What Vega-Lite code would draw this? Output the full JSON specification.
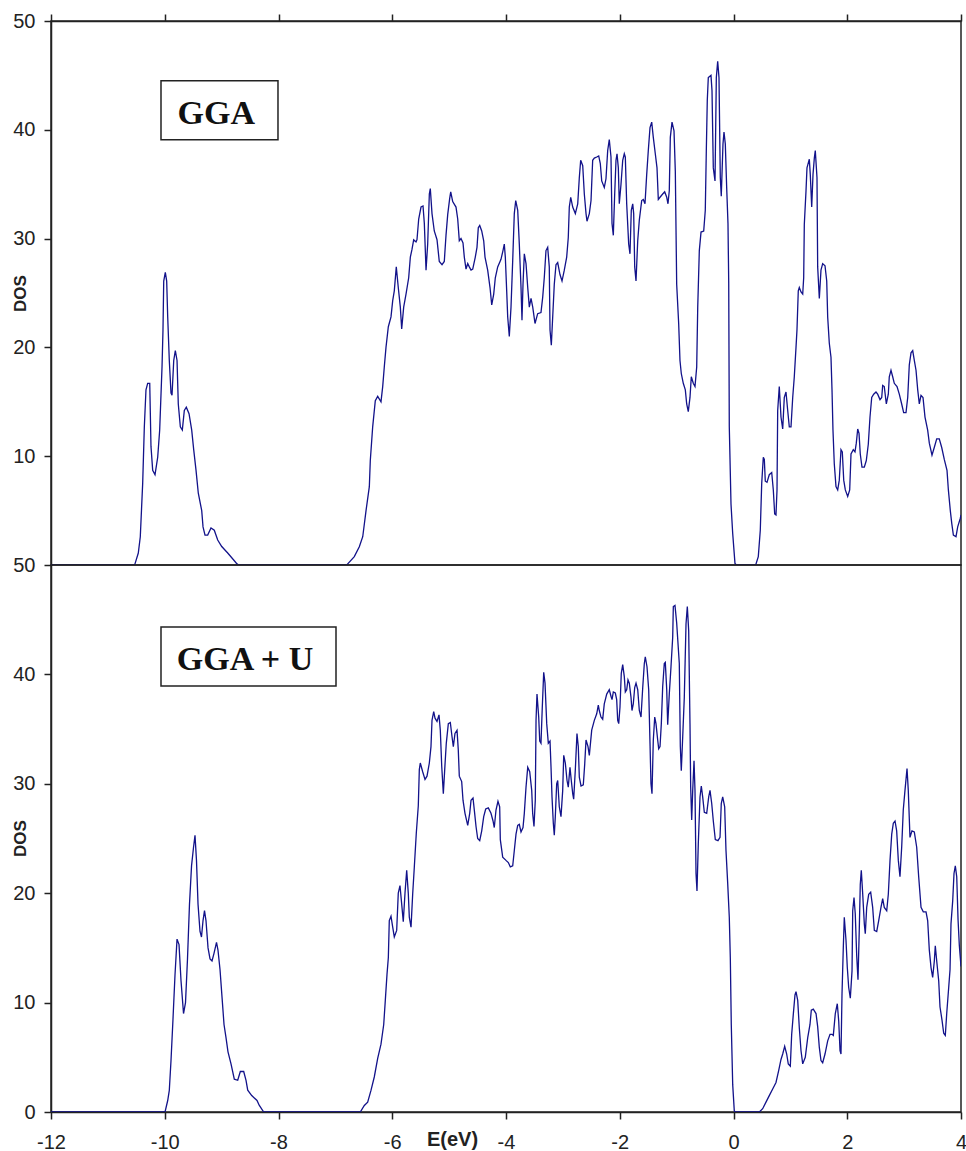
{
"$schema": "https://vega.github.io/schema/vega-lite/v6.json",
"background": "white",
"padding": {"left": 10, "top": 10, "right": 0, "bottom": 0},
"spacing": 0,
"bounds": "flush",
"config": {
 "view": {"stroke": "#222", "strokeWidth": 1.5},
 "axis": {"labelFont": "Liberation Sans", "labelFontSize": 20, "labelColor": "#222", "domainColor": "#222", "domainWidth": 1.5, "tickColor": "#222", "tickWidth": 1.5, "tickSize": 7, "grid": false, "titleFont": "Liberation Sans", "titleFontWeight": "bold", "titleColor": "#222", "labelFlush": false, "labelExpr": "datum.value + ''"}
},
"datasets": {
"gga": [
{"E":-12,"DOS":0},{"E":-10.53,"DOS":0},{"E":-10.518,"DOS":0.2},{"E":-10.465,"DOS":1.1},{"E":-10.43,"DOS":2.6},{"E":-10.388,"DOS":7.5},{"E":-10.359,"DOS":12.7},{"E":-10.33,"DOS":16.1},{"E":-10.3,"DOS":16.7},{"E":-10.264,"DOS":16.7},{"E":-10.242,"DOS":10.9},{"E":-10.212,"DOS":8.7},{"E":-10.171,"DOS":8.3},{"E":-10.124,"DOS":9.9},{"E":-10.089,"DOS":12.4},{"E":-10.048,"DOS":18.2},{"E":-10.031,"DOS":21.6},{"E":-10.018,"DOS":26.1},{"E":-9.99,"DOS":26.9},{"E":-9.966,"DOS":26.1},{"E":-9.948,"DOS":22.8},{"E":-9.92,"DOS":18.8},{"E":-9.89,"DOS":15.8},{"E":-9.872,"DOS":15.6},{"E":-9.842,"DOS":18.8},{"E":-9.814,"DOS":19.7},{"E":-9.784,"DOS":18.8},{"E":-9.762,"DOS":14.8},{"E":-9.726,"DOS":12.7},{"E":-9.691,"DOS":12.4},{"E":-9.656,"DOS":14.2},{"E":-9.621,"DOS":14.5},{"E":-9.573,"DOS":13.9},{"E":-9.526,"DOS":12.4},{"E":-9.491,"DOS":10.6},{"E":-9.45,"DOS":8.7},{"E":-9.41,"DOS":6.6},{"E":-9.35,"DOS":5},{"E":-9.327,"DOS":3.5},{"E":-9.292,"DOS":2.75},{"E":-9.245,"DOS":2.75},{"E":-9.187,"DOS":3.4},{"E":-9.129,"DOS":3.2},{"E":-9.069,"DOS":2.3},{"E":-8.998,"DOS":1.7},{"E":-8.893,"DOS":1.1},{"E":-8.788,"DOS":0.46},{"E":-8.73,"DOS":0.1},{"E":-8.7,"DOS":0},{"E":-6.8,"DOS":0},
{"E":-6.783,"DOS":0.1},{"E":-6.667,"DOS":0.77},{"E":-6.579,"DOS":1.68},{"E":-6.519,"DOS":2.6},{"E":-6.461,"DOS":5},{"E":-6.403,"DOS":7.2},{"E":-6.386,"DOS":9.6},{"E":-6.344,"DOS":12.7},{"E":-6.298,"DOS":15.1},{"E":-6.256,"DOS":15.5},{"E":-6.198,"DOS":15},{"E":-6.168,"DOS":16.4},{"E":-6.14,"DOS":18.2},{"E":-6.11,"DOS":20},{"E":-6.069,"DOS":21.9},{"E":-6.022,"DOS":22.8},{"E":-5.992,"DOS":24.3},{"E":-5.964,"DOS":25.2},{"E":-5.929,"DOS":27.4},{"E":-5.894,"DOS":25.5},{"E":-5.858,"DOS":23.7},{"E":-5.834,"DOS":21.7},{"E":-5.799,"DOS":23.7},{"E":-5.758,"DOS":24.9},{"E":-5.711,"DOS":26.4},{"E":-5.682,"DOS":28.3},{"E":-5.653,"DOS":29},{"E":-5.623,"DOS":29.9},{"E":-5.582,"DOS":29.7},{"E":-5.565,"DOS":29.9},{"E":-5.535,"DOS":31.8},{"E":-5.494,"DOS":32.9},{"E":-5.459,"DOS":33},{"E":-5.436,"DOS":31.4},{"E":-5.406,"DOS":27.1},{"E":-5.377,"DOS":29.5},{"E":-5.348,"DOS":34.1},{"E":-5.331,"DOS":34.6},{"E":-5.301,"DOS":32.3},{"E":-5.261,"DOS":30.7},{"E":-5.213,"DOS":29.9},{"E":-5.173,"DOS":27.9},{"E":-5.125,"DOS":27.6},{"E":-5.085,"DOS":27.9},{"E":-5.055,"DOS":30.3},{"E":-5.025,"DOS":32.2},{"E":-4.99,"DOS":33.7},{"E":-4.972,"DOS":34.3},{"E":-4.937,"DOS":33.4},{"E":-4.879,"DOS":32.9},{"E":-4.849,"DOS":31.8},{"E":-4.821,"DOS":29.8},{"E":-4.791,"DOS":30},{"E":-4.756,"DOS":29.6},{"E":-4.733,"DOS":28.3},{"E":-4.703,"DOS":27.2},{"E":-4.673,"DOS":27.7},{"E":-4.645,"DOS":27.4},{"E":-4.615,"DOS":27.1},{"E":-4.585,"DOS":27.2},{"E":-4.54,"DOS":28.3},{"E":-4.51,"DOS":29.2},{"E":-4.487,"DOS":31},{"E":-4.462,"DOS":31.2},{"E":-4.427,"DOS":30.7},{"E":-4.392,"DOS":29.8},{"E":-4.369,"DOS":28.3},{"E":-4.322,"DOS":27.1},{"E":-4.281,"DOS":25.5},{"E":-4.251,"DOS":23.9},{"E":-4.216,"DOS":24.9},{"E":-4.188,"DOS":26.4},{"E":-4.146,"DOS":27.4},{"E":-4.088,"DOS":28.1},{"E":-4.053,"DOS":28.9},{"E":-4.03,"DOS":29.5},{"E":-4.012,"DOS":28.3},{"E":-3.988,"DOS":25.2},{"E":-3.97,"DOS":22.8},{"E":-3.942,"DOS":21},{"E":-3.912,"DOS":23.7},{"E":-3.882,"DOS":28},{"E":-3.854,"DOS":32.3},{"E":-3.829,"DOS":33.5},{"E":-3.794,"DOS":32.6},{"E":-3.766,"DOS":29.5},{"E":-3.736,"DOS":25.5},{"E":-3.719,"DOS":22.5},{"E":-3.701,"DOS":25.8},{"E":-3.678,"DOS":28.6},{"E":-3.648,"DOS":27.7},{"E":-3.618,"DOS":25.5},{"E":-3.59,"DOS":23.7},{"E":-3.56,"DOS":24.5},{"E":-3.53,"DOS":23.7},{"E":-3.49,"DOS":22.2},{"E":-3.443,"DOS":23.1},{"E":-3.385,"DOS":23.2},{"E":-3.355,"DOS":24.6},{"E":-3.327,"DOS":26.4},{"E":-3.297,"DOS":28.9},{"E":-3.267,"DOS":29.2},{"E":-3.239,"DOS":27.4},{"E":-3.226,"DOS":21.6},{"E":-3.203,"DOS":20.2},{"E":-3.179,"DOS":22.8},{"E":-3.151,"DOS":25.8},{"E":-3.121,"DOS":27.6},{"E":-3.091,"DOS":27.8},{"E":-3.051,"DOS":26.7},{"E":-3.015,"DOS":26.1},{"E":-2.975,"DOS":27.1},{"E":-2.933,"DOS":28.3},{"E":-2.905,"DOS":30.1},{"E":-2.887,"DOS":32.9},{"E":-2.862,"DOS":33.8},{"E":-2.827,"DOS":32.9},{"E":-2.781,"DOS":32.3},{"E":-2.739,"DOS":33.2},{"E":-2.711,"DOS":35.6},{"E":-2.687,"DOS":37.2},{"E":-2.651,"DOS":36.7},{"E":-2.623,"DOS":34.1},{"E":-2.593,"DOS":32.3},{"E":-2.576,"DOS":31.6},{"E":-2.535,"DOS":32.3},{"E":-2.505,"DOS":33.5},{"E":-2.476,"DOS":37.2},{"E":-2.447,"DOS":37.4},{"E":-2.405,"DOS":37.5},{"E":-2.37,"DOS":37.6},{"E":-2.342,"DOS":36.9},{"E":-2.317,"DOS":35.3},{"E":-2.272,"DOS":34.7},{"E":-2.242,"DOS":35.5},{"E":-2.212,"DOS":38.1},{"E":-2.184,"DOS":39.1},{"E":-2.154,"DOS":37.5},{"E":-2.136,"DOS":31.4},{"E":-2.113,"DOS":30.3},{"E":-2.089,"DOS":34.1},{"E":-2.066,"DOS":37.2},{"E":-2.048,"DOS":37.8},{"E":-2.025,"DOS":36.5},{"E":-2.008,"DOS":33.2},{"E":-1.978,"DOS":35},{"E":-1.948,"DOS":37.2},{"E":-1.92,"DOS":37.8},{"E":-1.902,"DOS":37.5},{"E":-1.878,"DOS":33.2},{"E":-1.843,"DOS":29.5},{"E":-1.82,"DOS":28.6},{"E":-1.797,"DOS":32.6},{"E":-1.772,"DOS":33.2},{"E":-1.755,"DOS":32.3},{"E":-1.737,"DOS":27.4},{"E":-1.714,"DOS":26.1},{"E":-1.684,"DOS":29.8},{"E":-1.656,"DOS":31.7},{"E":-1.614,"DOS":33.5},{"E":-1.586,"DOS":33.6},{"E":-1.556,"DOS":33.2},{"E":-1.526,"DOS":35.9},{"E":-1.498,"DOS":38.1},{"E":-1.468,"DOS":40.2},{"E":-1.438,"DOS":40.7},{"E":-1.41,"DOS":39.3},{"E":-1.375,"DOS":37.8},{"E":-1.345,"DOS":36.5},{"E":-1.322,"DOS":33.6},{"E":-1.292,"DOS":33.8},{"E":-1.245,"DOS":34.1},{"E":-1.21,"DOS":34.3},{"E":-1.174,"DOS":33.8},{"E":-1.152,"DOS":33.2},{"E":-1.129,"DOS":34.4},{"E":-1.111,"DOS":39.3},{"E":-1.081,"DOS":40.7},{"E":-1.046,"DOS":39.9},{"E":-1.023,"DOS":36.2},{"E":-0.999,"DOS":25.8},{"E":-0.964,"DOS":22.2},{"E":-0.941,"DOS":18.8},{"E":-0.918,"DOS":17.6},{"E":-0.883,"DOS":16.7},{"E":-0.847,"DOS":16.1},{"E":-0.823,"DOS":14.8},{"E":-0.795,"DOS":14.1},{"E":-0.765,"DOS":15.4},{"E":-0.742,"DOS":17.3},{"E":-0.707,"DOS":16.7},{"E":-0.677,"DOS":16.4},{"E":-0.647,"DOS":18.2},{"E":-0.629,"DOS":23.7},{"E":-0.601,"DOS":28.9},{"E":-0.571,"DOS":30.6},{"E":-0.524,"DOS":30.7},{"E":-0.496,"DOS":32.6},{"E":-0.478,"DOS":38.1},{"E":-0.461,"DOS":42.7},{"E":-0.443,"DOS":44.8},{"E":-0.396,"DOS":45},{"E":-0.378,"DOS":43.6},{"E":-0.355,"DOS":36.5},{"E":-0.325,"DOS":35.3},{"E":-0.302,"DOS":44.8},{"E":-0.278,"DOS":46.3},{"E":-0.255,"DOS":44.8},{"E":-0.232,"DOS":35.6},{"E":-0.215,"DOS":33.9},{"E":-0.185,"DOS":38.7},{"E":-0.167,"DOS":39.8},{"E":-0.144,"DOS":38.7},{"E":-0.12,"DOS":34.7},{"E":-0.097,"DOS":31.4},{"E":-0.084,"DOS":25.9},{"E":-0.074,"DOS":12.7},{"E":-0.044,"DOS":5.6},{"E":-0.014,"DOS":2.9},{"E":0.026,"DOS":0.15},{"E":0.05,"DOS":0},{"E":0.39,"DOS":0},
{"E":0.436,"DOS":0.77},{"E":0.471,"DOS":3.2},{"E":0.496,"DOS":7.5},{"E":0.524,"DOS":9.9},{"E":0.542,"DOS":9.7},{"E":0.559,"DOS":7.7},{"E":0.589,"DOS":7.6},{"E":0.629,"DOS":8.3},{"E":0.672,"DOS":8.5},{"E":0.7,"DOS":6.9},{"E":0.724,"DOS":4.7},{"E":0.747,"DOS":4.6},{"E":0.765,"DOS":6.9},{"E":0.777,"DOS":14.2},{"E":0.805,"DOS":16.4},{"E":0.835,"DOS":13.6},{"E":0.865,"DOS":12.5},{"E":0.893,"DOS":15.4},{"E":0.923,"DOS":15.9},{"E":0.953,"DOS":14.2},{"E":0.981,"DOS":12.7},{"E":1.011,"DOS":12.7},{"E":1.041,"DOS":15.4},{"E":1.069,"DOS":17.3},{"E":1.099,"DOS":20},{"E":1.116,"DOS":21.6},{"E":1.139,"DOS":25.2},{"E":1.157,"DOS":25.5},{"E":1.187,"DOS":25.1},{"E":1.217,"DOS":24.9},{"E":1.234,"DOS":26.4},{"E":1.245,"DOS":31.3},{"E":1.275,"DOS":34.4},{"E":1.292,"DOS":36.5},{"E":1.333,"DOS":37.3},{"E":1.35,"DOS":35.9},{"E":1.375,"DOS":32.9},{"E":1.398,"DOS":35.9},{"E":1.421,"DOS":37.4},{"E":1.438,"DOS":38.1},{"E":1.468,"DOS":35.6},{"E":1.48,"DOS":27.4},{"E":1.509,"DOS":24.5},{"E":1.538,"DOS":27.1},{"E":1.568,"DOS":27.7},{"E":1.609,"DOS":27.5},{"E":1.639,"DOS":26.1},{"E":1.656,"DOS":22.8},{"E":1.684,"DOS":20.4},{"E":1.714,"DOS":19.1},{"E":1.732,"DOS":16.1},{"E":1.749,"DOS":12.4},{"E":1.772,"DOS":9.3},{"E":1.802,"DOS":7.2},{"E":1.832,"DOS":6.9},{"E":1.86,"DOS":7.8},{"E":1.89,"DOS":10.6},{"E":1.913,"DOS":10.4},{"E":1.938,"DOS":7.8},{"E":1.966,"DOS":6.9},{"E":2.008,"DOS":6.3},{"E":2.043,"DOS":6.9},{"E":2.066,"DOS":10.2},{"E":2.106,"DOS":10.6},{"E":2.136,"DOS":10.4},{"E":2.159,"DOS":11.2},{"E":2.184,"DOS":12.5},{"E":2.207,"DOS":12.1},{"E":2.229,"DOS":10.2},{"E":2.259,"DOS":9},{"E":2.3,"DOS":9},{"E":2.335,"DOS":9.6},{"E":2.37,"DOS":11.1},{"E":2.4,"DOS":13.6},{"E":2.43,"DOS":15.4},{"E":2.465,"DOS":15.7},{"E":2.505,"DOS":15.9},{"E":2.535,"DOS":15.7},{"E":2.576,"DOS":15.2},{"E":2.606,"DOS":15.4},{"E":2.623,"DOS":16.5},{"E":2.651,"DOS":16.4},{"E":2.687,"DOS":14.8},{"E":2.722,"DOS":15.7},{"E":2.739,"DOS":17.3},{"E":2.769,"DOS":17.9},{"E":2.799,"DOS":17.3},{"E":2.827,"DOS":16.7},{"E":2.875,"DOS":16.4},{"E":2.915,"DOS":15.7},{"E":2.957,"DOS":14.8},{"E":2.992,"DOS":14},{"E":3.033,"DOS":14},{"E":3.063,"DOS":15.4},{"E":3.091,"DOS":18.4},{"E":3.121,"DOS":19.5},{"E":3.151,"DOS":19.7},{"E":3.179,"DOS":18.8},{"E":3.209,"DOS":17.9},{"E":3.239,"DOS":16.1},{"E":3.267,"DOS":14.8},{"E":3.297,"DOS":15.6},{"E":3.332,"DOS":15.4},{"E":3.367,"DOS":13.6},{"E":3.414,"DOS":12.4},{"E":3.443,"DOS":11.2},{"E":3.49,"DOS":10.1},{"E":3.53,"DOS":10.8},{"E":3.573,"DOS":11.6},{"E":3.618,"DOS":11.6},{"E":3.661,"DOS":10.8},{"E":3.706,"DOS":9.7},{"E":3.754,"DOS":8.7},{"E":3.778,"DOS":6.9},{"E":3.812,"DOS":5},{"E":3.838,"DOS":3.8},{"E":3.866,"DOS":2.75},{"E":3.912,"DOS":2.6},{"E":3.942,"DOS":3.5},{"E":3.988,"DOS":4.3},{"E":4,"DOS":4.6}
],
"ggau": [
{"E":-12,"DOS":0},{"E":-9.995,"DOS":0},{"E":-9.948,"DOS":1.05},{"E":-9.92,"DOS":1.97},{"E":-9.89,"DOS":4.7},{"E":-9.855,"DOS":8.5},{"E":-9.82,"DOS":12.5},{"E":-9.784,"DOS":15.8},{"E":-9.749,"DOS":15.3},{"E":-9.714,"DOS":12},{"E":-9.67,"DOS":9},{"E":-9.635,"DOS":10},{"E":-9.6,"DOS":14},{"E":-9.565,"DOS":19},{"E":-9.529,"DOS":22.5},{"E":-9.494,"DOS":24.2},{"E":-9.468,"DOS":25.3},{"E":-9.442,"DOS":23},{"E":-9.415,"DOS":19},{"E":-9.38,"DOS":16.5},{"E":-9.354,"DOS":16},{"E":-9.327,"DOS":17.5},{"E":-9.301,"DOS":18.4},{"E":-9.275,"DOS":17.5},{"E":-9.239,"DOS":15},{"E":-9.204,"DOS":14},{"E":-9.169,"DOS":13.8},{"E":-9.134,"DOS":14.5},{"E":-9.09,"DOS":15.5},{"E":-9.064,"DOS":14.8},{"E":-9.028,"DOS":13},{"E":-8.993,"DOS":10.5},{"E":-8.958,"DOS":8},{"E":-8.923,"DOS":6.8},{"E":-8.888,"DOS":5.5},{"E":-8.835,"DOS":4.4},{"E":-8.777,"DOS":3},{"E":-8.717,"DOS":2.9},{"E":-8.671,"DOS":3.7},{"E":-8.612,"DOS":3.7},{"E":-8.571,"DOS":2.9},{"E":-8.541,"DOS":2},{"E":-8.471,"DOS":1.5},{"E":-8.378,"DOS":1.05},{"E":-8.337,"DOS":0.6},{"E":-8.26,"DOS":0},{"E":-6.562,"DOS":0},
{"E":-6.491,"DOS":0.6},{"E":-6.432,"DOS":0.9},{"E":-6.374,"DOS":1.97},{"E":-6.316,"DOS":3.2},{"E":-6.256,"DOS":4.9},{"E":-6.198,"DOS":6.2},{"E":-6.15,"DOS":8},{"E":-6.122,"DOS":10.2},{"E":-6.092,"DOS":12.6},{"E":-6.069,"DOS":14.1},{"E":-6.052,"DOS":17.5},{"E":-6.022,"DOS":17.9},{"E":-5.992,"DOS":16.9},{"E":-5.964,"DOS":16},{"E":-5.922,"DOS":16.6},{"E":-5.894,"DOS":20},{"E":-5.864,"DOS":20.7},{"E":-5.834,"DOS":19},{"E":-5.806,"DOS":17.4},{"E":-5.776,"DOS":20},{"E":-5.746,"DOS":22.1},{"E":-5.718,"DOS":20},{"E":-5.7,"DOS":17.8},{"E":-5.67,"DOS":16.9},{"E":-5.64,"DOS":20},{"E":-5.612,"DOS":22.4},{"E":-5.577,"DOS":25.5},{"E":-5.542,"DOS":28},{"E":-5.524,"DOS":31.3},{"E":-5.507,"DOS":31.9},{"E":-5.465,"DOS":31.1},{"E":-5.424,"DOS":30.4},{"E":-5.389,"DOS":30.7},{"E":-5.348,"DOS":31.9},{"E":-5.319,"DOS":33.4},{"E":-5.301,"DOS":35.8},{"E":-5.271,"DOS":36.6},{"E":-5.248,"DOS":36},{"E":-5.213,"DOS":35.7},{"E":-5.178,"DOS":36.3},{"E":-5.155,"DOS":34.9},{"E":-5.13,"DOS":31.6},{"E":-5.102,"DOS":29.1},{"E":-5.072,"DOS":31.8},{"E":-5.05,"DOS":33.7},{"E":-5.014,"DOS":35.5},{"E":-4.979,"DOS":35.6},{"E":-4.949,"DOS":34.3},{"E":-4.926,"DOS":33.4},{"E":-4.897,"DOS":34.6},{"E":-4.861,"DOS":34.9},{"E":-4.839,"DOS":33.1},{"E":-4.821,"DOS":30.7},{"E":-4.779,"DOS":30.2},{"E":-4.756,"DOS":28.5},{"E":-4.721,"DOS":27.3},{"E":-4.673,"DOS":26.2},{"E":-4.638,"DOS":27.3},{"E":-4.615,"DOS":28.5},{"E":-4.58,"DOS":28.7},{"E":-4.557,"DOS":27.6},{"E":-4.527,"DOS":26.1},{"E":-4.498,"DOS":25},{"E":-4.462,"DOS":24.8},{"E":-4.427,"DOS":25.7},{"E":-4.392,"DOS":27},{"E":-4.357,"DOS":27.7},{"E":-4.311,"DOS":27.8},{"E":-4.264,"DOS":27.3},{"E":-4.228,"DOS":26.6},{"E":-4.206,"DOS":26},{"E":-4.176,"DOS":27.6},{"E":-4.141,"DOS":28.4},{"E":-4.111,"DOS":27.9},{"E":-4.1,"DOS":24.9},{"E":-4.058,"DOS":23.3},{"E":-4,"DOS":23},{"E":-3.959,"DOS":22.8},{"E":-3.924,"DOS":22.4},{"E":-3.882,"DOS":22.5},{"E":-3.854,"DOS":23.9},{"E":-3.824,"DOS":25.4},{"E":-3.794,"DOS":26.2},{"E":-3.766,"DOS":26.3},{"E":-3.736,"DOS":25.6},{"E":-3.701,"DOS":26},{"E":-3.678,"DOS":27.3},{"E":-3.648,"DOS":29.7},{"E":-3.618,"DOS":31.5},{"E":-3.583,"DOS":31.1},{"E":-3.548,"DOS":29.4},{"E":-3.531,"DOS":27.3},{"E":-3.508,"DOS":26.1},{"E":-3.485,"DOS":28.5},{"E":-3.472,"DOS":35.8},{"E":-3.455,"DOS":38.2},{"E":-3.425,"DOS":36.1},{"E":-3.407,"DOS":33.9},{"E":-3.385,"DOS":33.7},{"E":-3.362,"DOS":37},{"E":-3.337,"DOS":40.2},{"E":-3.314,"DOS":39.2},{"E":-3.284,"DOS":35.5},{"E":-3.256,"DOS":33.7},{"E":-3.226,"DOS":33.9},{"E":-3.209,"DOS":31.6},{"E":-3.191,"DOS":28.8},{"E":-3.168,"DOS":26.4},{"E":-3.151,"DOS":25.3},{"E":-3.133,"DOS":27},{"E":-3.109,"DOS":30},{"E":-3.091,"DOS":30.3},{"E":-3.063,"DOS":27.9},{"E":-3.033,"DOS":27},{"E":-3.003,"DOS":29.4},{"E":-2.985,"DOS":32.6},{"E":-2.957,"DOS":31.9},{"E":-2.927,"DOS":30.3},{"E":-2.905,"DOS":29.7},{"E":-2.875,"DOS":31.5},{"E":-2.852,"DOS":30.3},{"E":-2.827,"DOS":29.1},{"E":-2.81,"DOS":28.6},{"E":-2.781,"DOS":31.3},{"E":-2.752,"DOS":34.6},{"E":-2.729,"DOS":33.4},{"E":-2.711,"DOS":30.6},{"E":-2.681,"DOS":29.8},{"E":-2.641,"DOS":29.9},{"E":-2.616,"DOS":31.8},{"E":-2.593,"DOS":34},{"E":-2.558,"DOS":33.4},{"E":-2.535,"DOS":32.6},{"E":-2.493,"DOS":34.9},{"E":-2.447,"DOS":35.8},{"E":-2.405,"DOS":36.4},{"E":-2.377,"DOS":37.2},{"E":-2.36,"DOS":36.7},{"E":-2.33,"DOS":36.1},{"E":-2.3,"DOS":35.9},{"E":-2.272,"DOS":37.3},{"E":-2.229,"DOS":38.2},{"E":-2.184,"DOS":38.6},{"E":-2.154,"DOS":38},{"E":-2.136,"DOS":37.7},{"E":-2.113,"DOS":38.4},{"E":-2.078,"DOS":38.3},{"E":-2.054,"DOS":37.7},{"E":-2.036,"DOS":35.8},{"E":-2.018,"DOS":35.5},{"E":-1.996,"DOS":37},{"E":-1.973,"DOS":40.1},{"E":-1.948,"DOS":40.9},{"E":-1.92,"DOS":39.8},{"E":-1.902,"DOS":38.4},{"E":-1.878,"DOS":38.6},{"E":-1.855,"DOS":39.5},{"E":-1.832,"DOS":39.2},{"E":-1.802,"DOS":37.9},{"E":-1.785,"DOS":36.7},{"E":-1.762,"DOS":37.3},{"E":-1.737,"DOS":38.8},{"E":-1.714,"DOS":39.2},{"E":-1.684,"DOS":38.6},{"E":-1.656,"DOS":36.7},{"E":-1.626,"DOS":36.1},{"E":-1.596,"DOS":38.8},{"E":-1.568,"DOS":41},{"E":-1.551,"DOS":41.6},{"E":-1.521,"DOS":40.7},{"E":-1.491,"DOS":38.6},{"E":-1.468,"DOS":33.7},{"E":-1.451,"DOS":30},{"E":-1.433,"DOS":29.1},{"E":-1.41,"DOS":34},{"E":-1.385,"DOS":36.1},{"E":-1.363,"DOS":35.5},{"E":-1.333,"DOS":34},{"E":-1.315,"DOS":33.2},{"E":-1.292,"DOS":33.4},{"E":-1.269,"DOS":35.5},{"E":-1.245,"DOS":38.9},{"E":-1.217,"DOS":41},{"E":-1.199,"DOS":41.1},{"E":-1.174,"DOS":38.6},{"E":-1.157,"DOS":35.4},{"E":-1.129,"DOS":38.2},{"E":-1.099,"DOS":40.7},{"E":-1.069,"DOS":43.4},{"E":-1.058,"DOS":46.2},{"E":-1.029,"DOS":46.3},{"E":-0.999,"DOS":44.7},{"E":-0.953,"DOS":41},{"E":-0.935,"DOS":33.4},{"E":-0.918,"DOS":31.2},{"E":-0.893,"DOS":34.3},{"E":-0.865,"DOS":37.9},{"E":-0.835,"DOS":44.6},{"E":-0.812,"DOS":46.2},{"E":-0.788,"DOS":44},{"E":-0.765,"DOS":35.5},{"E":-0.753,"DOS":29.7},{"E":-0.735,"DOS":26.7},{"E":-0.717,"DOS":29.4},{"E":-0.694,"DOS":32.1},{"E":-0.677,"DOS":29.4},{"E":-0.659,"DOS":21.8},{"E":-0.642,"DOS":20.2},{"E":-0.619,"DOS":24.5},{"E":-0.589,"DOS":28.8},{"E":-0.566,"DOS":29.8},{"E":-0.542,"DOS":28.8},{"E":-0.513,"DOS":27.4},{"E":-0.471,"DOS":27.3},{"E":-0.436,"DOS":28.8},{"E":-0.413,"DOS":29.4},{"E":-0.383,"DOS":28.2},{"E":-0.355,"DOS":26.6},{"E":-0.32,"DOS":24.9},{"E":-0.273,"DOS":24.8},{"E":-0.237,"DOS":25.1},{"E":-0.215,"DOS":28.2},{"E":-0.19,"DOS":28.8},{"E":-0.155,"DOS":27.9},{"E":-0.132,"DOS":23.9},{"E":-0.102,"DOS":20.9},{"E":-0.074,"DOS":17.8},{"E":-0.056,"DOS":14.1},{"E":-0.039,"DOS":8},{"E":-0.014,"DOS":2.5},{"E":0.014,"DOS":0.1},{"E":0.03,"DOS":0},{"E":0.454,"DOS":0},
{"E":0.513,"DOS":0.3},{"E":0.571,"DOS":0.9},{"E":0.629,"DOS":1.5},{"E":0.689,"DOS":2.1},{"E":0.747,"DOS":2.7},{"E":0.795,"DOS":3.8},{"E":0.835,"DOS":4.8},{"E":0.865,"DOS":5.3},{"E":0.9,"DOS":6},{"E":0.935,"DOS":5.3},{"E":0.963,"DOS":4.4},{"E":0.999,"DOS":4.2},{"E":1.023,"DOS":7.1},{"E":1.051,"DOS":8.9},{"E":1.081,"DOS":10.7},{"E":1.099,"DOS":11},{"E":1.129,"DOS":10.2},{"E":1.157,"DOS":7.7},{"E":1.187,"DOS":5.6},{"E":1.217,"DOS":4.4},{"E":1.262,"DOS":5},{"E":1.305,"DOS":6.8},{"E":1.345,"DOS":8},{"E":1.368,"DOS":9.3},{"E":1.403,"DOS":9.4},{"E":1.451,"DOS":9},{"E":1.48,"DOS":7.8},{"E":1.509,"DOS":5.9},{"E":1.538,"DOS":4.7},{"E":1.568,"DOS":4.5},{"E":1.609,"DOS":5.3},{"E":1.656,"DOS":6.5},{"E":1.697,"DOS":7.1},{"E":1.732,"DOS":7.1},{"E":1.755,"DOS":7},{"E":1.79,"DOS":9},{"E":1.825,"DOS":9.9},{"E":1.85,"DOS":8.3},{"E":1.873,"DOS":5.6},{"E":1.89,"DOS":5.3},{"E":1.908,"DOS":10.8},{"E":1.931,"DOS":15.1},{"E":1.948,"DOS":17.8},{"E":1.978,"DOS":15.7},{"E":2.001,"DOS":13.2},{"E":2.025,"DOS":11.4},{"E":2.054,"DOS":10.4},{"E":2.084,"DOS":12.9},{"E":2.096,"DOS":18.4},{"E":2.119,"DOS":19.6},{"E":2.141,"DOS":18.1},{"E":2.166,"DOS":14.3},{"E":2.189,"DOS":12.1},{"E":2.212,"DOS":16.8},{"E":2.229,"DOS":20.8},{"E":2.247,"DOS":22.1},{"E":2.272,"DOS":19.9},{"E":2.3,"DOS":17.2},{"E":2.317,"DOS":16.3},{"E":2.342,"DOS":18.7},{"E":2.377,"DOS":19.9},{"E":2.412,"DOS":20.1},{"E":2.447,"DOS":18.7},{"E":2.476,"DOS":16.6},{"E":2.518,"DOS":16.5},{"E":2.553,"DOS":17.5},{"E":2.593,"DOS":18.7},{"E":2.623,"DOS":19.5},{"E":2.651,"DOS":18.7},{"E":2.694,"DOS":18.4},{"E":2.722,"DOS":19.9},{"E":2.752,"DOS":23},{"E":2.782,"DOS":25.4},{"E":2.81,"DOS":26.4},{"E":2.84,"DOS":26.6},{"E":2.869,"DOS":25.7},{"E":2.898,"DOS":23},{"E":2.927,"DOS":21.5},{"E":2.957,"DOS":24.2},{"E":2.985,"DOS":27.6},{"E":3.015,"DOS":29.4},{"E":3.051,"DOS":31.4},{"E":3.073,"DOS":29.4},{"E":3.103,"DOS":25.1},{"E":3.138,"DOS":25.7},{"E":3.179,"DOS":25.6},{"E":3.221,"DOS":24.2},{"E":3.256,"DOS":21.5},{"E":3.297,"DOS":18.7},{"E":3.337,"DOS":18.3},{"E":3.385,"DOS":18.3},{"E":3.414,"DOS":17.5},{"E":3.443,"DOS":14.8},{"E":3.473,"DOS":13.2},{"E":3.502,"DOS":12.3},{"E":3.531,"DOS":13.8},{"E":3.548,"DOS":15.2},{"E":3.573,"DOS":13.8},{"E":3.608,"DOS":12},{"E":3.631,"DOS":9.6},{"E":3.666,"DOS":8.4},{"E":3.696,"DOS":7.2},{"E":3.724,"DOS":7},{"E":3.749,"DOS":9},{"E":3.784,"DOS":11.4},{"E":3.807,"DOS":13},{"E":3.824,"DOS":17.2},{"E":3.854,"DOS":19.3},{"E":3.877,"DOS":21.8},{"E":3.9,"DOS":22.5},{"E":3.925,"DOS":21.5},{"E":3.948,"DOS":17.6},{"E":3.971,"DOS":15.2},{"E":4,"DOS":13.3}
]
},
"vconcat": [
 {
  "width": 910, "height": 544,
  "layer": [
   {"data": {"name": "gga"},
    "mark": {"type": "line", "color": "#12128a", "strokeWidth": 1.3, "clip": true},
    "encoding": {
     "x": {"field": "E", "type": "quantitative", "scale": {"domain": [-12, 4], "nice": false, "zero": false},
           "axis": {"orient": "top", "labels": false, "title": null, "values": [-12,-10,-8,-6,-4,-2,0,2,4]}},
     "y": {"field": "DOS", "type": "quantitative", "scale": {"domain": [0, 50], "nice": false},
           "axis": {"values": [10,20,30,40,50], "labelPadding": 9, "title": "DOS", "titleFontSize": 17, "titleAngle": -90, "titleX": -31, "titleY": 272, "titleAlign": "center", "titleBaseline": "middle"}}
    }},
   {"data": {"values": [{}]},
    "mark": {"type": "rect", "fill": "white", "stroke": "#222", "strokeWidth": 1.5},
    "encoding": {"x": {"datum": -10.066, "type": "quantitative"}, "x2": {"datum": -8.009}, "y": {"datum": 44.5, "type": "quantitative"}, "y2": {"datum": 39.08}}},
   {"data": {"values": [{}]},
    "mark": {"type": "text", "text": "GGA", "font": "Liberation Serif", "fontWeight": "bold", "fontSize": 34, "align": "center", "baseline": "alphabetic", "color": "#111"},
    "encoding": {"x": {"datum": -9.094, "type": "quantitative"}, "y": {"datum": 40.52, "type": "quantitative"}}}
  ]
 },
 {
  "width": 910, "height": 547,
  "layer": [
   {"data": {"name": "ggau"},
    "mark": {"type": "line", "color": "#12128a", "strokeWidth": 1.3, "clip": true},
    "encoding": {
     "x": {"field": "E", "type": "quantitative", "scale": {"domain": [-12, 4], "nice": false, "zero": false},
           "axis": {"orient": "bottom", "values": [-12,-10,-8,-6,-4,-2,0,2,4], "labelPadding": 13, "title": "E(eV)", "titleFontSize": 20, "titleX": 401, "titleY": 33.5, "titleAlign": "center", "titleBaseline": "alphabetic"}},
     "y": {"field": "DOS", "type": "quantitative", "scale": {"domain": [0, 50], "nice": false},
           "axis": {"values": [0,10,20,30,40,50], "labelPadding": 9, "title": "DOS", "titleFontSize": 17, "titleAngle": -90, "titleX": -31, "titleY": 273, "titleAlign": "center", "titleBaseline": "middle"}}
    }},
   {"data": {"values": [{}]},
    "mark": {"type": "rect", "fill": "white", "stroke": "#222", "strokeWidth": 1.5},
    "encoding": {"x": {"datum": -10.066, "type": "quantitative"}, "x2": {"datum": -6.989}, "y": {"datum": 44.33, "type": "quantitative"}, "y2": {"datum": 38.93}}},
   {"data": {"values": [{}]},
    "mark": {"type": "text", "text": "GGA + U", "font": "Liberation Serif", "fontWeight": "bold", "fontSize": 34, "align": "center", "baseline": "alphabetic", "color": "#111"},
    "encoding": {"x": {"datum": -8.589, "type": "quantitative"}, "y": {"datum": 40.37, "type": "quantitative"}}}
  ]
 }
]
}
